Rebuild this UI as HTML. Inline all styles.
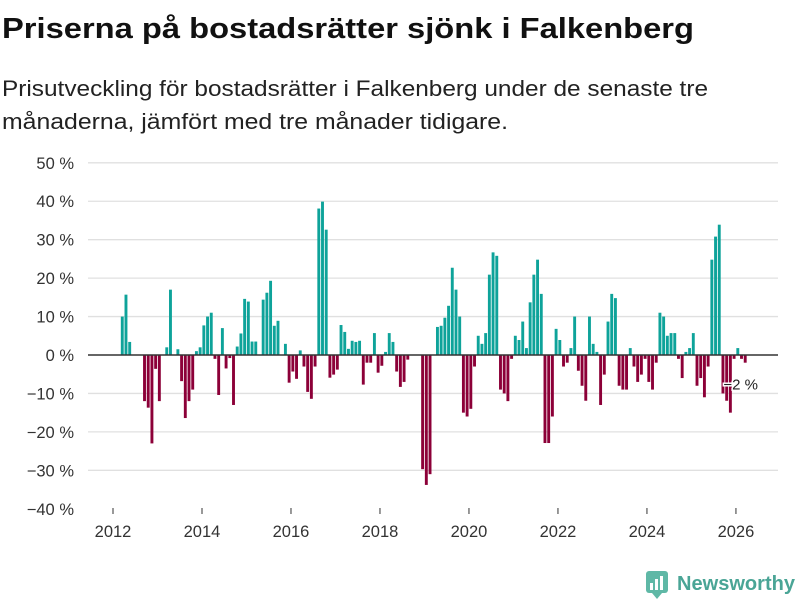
<!DOCTYPE html>
<html><head><meta charset="utf-8">
<style>
body{margin:0;background:#fff;width:800px;height:600px;overflow:hidden;font-family:"Liberation Sans","DejaVu Sans",sans-serif;}
svg{display:block}
</style></head>
<body>
<svg id="chart" width="800" height="600">
<text x="2" y="38" font-size="29" font-weight="bold" fill="#111" textLength="692" lengthAdjust="spacingAndGlyphs">Priserna på bostadsrätter sjönk i Falkenberg</text>
<text x="2" y="96" font-size="22" fill="#222" textLength="706" lengthAdjust="spacingAndGlyphs">Prisutveckling för bostadsrätter i Falkenberg under de senaste tre</text>
<text x="2" y="129" font-size="22" fill="#222" textLength="506" lengthAdjust="spacingAndGlyphs">månaderna, jämfört med tre månader tidigare.</text>
<g id="grid"></g>
<g id="bars"></g>
<g id="xaxis"></g>
<g>
<rect x="646" y="571" width="22" height="22" rx="3" fill="#5fb8a6"/>
<polygon points="652,593 662,593 657,599" fill="#5fb8a6"/>
<rect x="650" y="583" width="3" height="7" fill="#fff"/><rect x="655" y="579" width="3" height="11" fill="#fff"/><rect x="660" y="576" width="3" height="14" fill="#fff"/>
<text x="677" y="590" font-size="20" font-weight="bold" fill="#4aa596" textLength="118" lengthAdjust="spacingAndGlyphs">Newsworthy</text>
</g>
</svg>
<script>
const yTicks=[50,40,30,20,10,0,-10,-20,-30,-40];
const xYears=[2012,2014,2016,2018,2020,2022,2024,2026];
const values=[0,0,
10,15.7,3.4,0,0,0,-12,-13.7,-23,-3.6,-12,0,2,17,0,1.5,-6.8,-16.4,-12,-9,1,2,7.7,10,11,-1,-10.4,7,-3.5,-0.8,-13,2.2,5.6,14.6,13.9,3.5,3.5,0,14.4,16.2,19.3,7.6,8.9,
0,2.9,-7.2,-4.3,-6.2,1.2,-3,-9.6,-11.4,-3,38.1,39.9,32.6,-5.9,-5.1,-3.8,7.8,6,1.6,3.7,3.4,3.7,-7.7,-2,-2,5.7,-4.6,-2.8,0.8,5.7,3.4,-4.3,-8.3,-7,-1.2,0,0,0,-29.7,-33.8,-31,0,7.3,7.6,
9.7,12.8,22.7,17,10,-15,-16,-14,-3,5,2.9,5.7,20.9,26.7,25.8,-9,-10,-12,-1,5,3.9,8.7,1.8,13.7,20.9,24.8,15.9,-22.9,-22.9,-16,6.8,3.9,-3,-2,1.8,10,-4.1,-8,-11.9,10,2.9,0.8,-13,
-5.1,8.7,15.9,14.8,-8,-9,-9,1.8,-3,-7,-5.1,-1,-7,-9,-2,11,10,5,5.7,5.7,-1,-6,0.8,1.8,5.7,-8,-6,-11,-3,24.8,30.8,33.9,-10,-11.9,-15,-1,1.8,-1,-2];
const lastLabel="−2 %";
const NS="http://www.w3.org/2000/svg";
function y(v){return 355-v*3.844;}
function xm(i){return 113+i*3.708;}
function xy(yr){return xm((yr-2012)*12);}
function mk(tag,attrs,parent){const e=document.createElementNS(NS,tag);for(const k in attrs)e.setAttribute(k,attrs[k]);parent.appendChild(e);return e;}
const grid=document.getElementById('grid');
yTicks.forEach(t=>{
  if(t!==0 && t!==-40){const l=mk('line',{x1:88,x2:778,y1:y(t),y2:y(t),stroke:'#e0e0e0','stroke-width':1.3},grid);
  
  }
  const tx=mk('text',{x:74,y:y(t)+6,'text-anchor':'end','font-size':16.5,fill:'#333'},grid);
  
  
  tx.textContent=(t<0?'−'+(-t):t)+' %';
});
const bars=document.getElementById('bars');
values.forEach((v,i)=>{
  if(v===0)return;
  const r=mk('rect',{x:xm(i)+0.4,width:2.9,y:Math.min(y(v),y(0)),height:Math.abs(y(v)-y(0)),fill:v>0?'#0ea39a':'#8c0038'},bars);
  
  
});
const zl=mk('line',{x1:88,x2:778,y1:y(0),y2:y(0),stroke:'#333','stroke-width':1.5},bars);


const li=values.length-1;
const lb=mk('text',{x:xm(li)-20,y:y(-2)+27,'font-size':15,fill:'#222',stroke:'#fff','stroke-width':3,'paint-order':'stroke'},bars);


lb.textContent=lastLabel;
const xa=document.getElementById('xaxis');
xYears.forEach(yr=>{
  const tk=mk('line',{x1:xy(yr),x2:xy(yr),y1:508,y2:514,stroke:'#333','stroke-width':1},xa);
  
  
  const t=mk('text',{x:xy(yr),y:537,'text-anchor':'middle','font-size':16.5,fill:'#333'},xa);
  
  
  t.textContent=yr;
});
</script>
</body></html>
